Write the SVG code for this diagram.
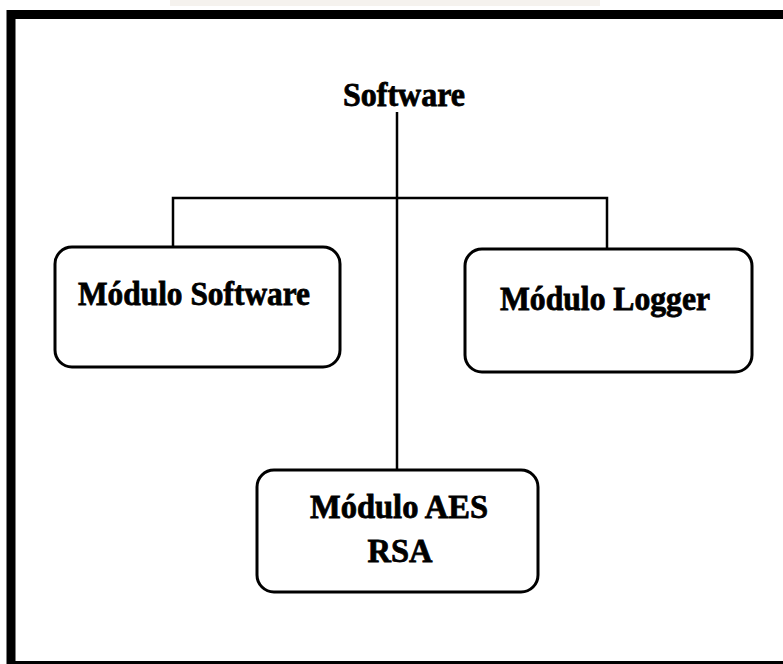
<svg xmlns="http://www.w3.org/2000/svg" width="783" height="664" viewBox="0 0 783 664">
<style>
.box{fill:#fff;stroke:#000;stroke-width:3}
.lbl{font-family:"Liberation Serif","Times New Roman",serif;font-weight:bold;font-size:34px;fill:#000;stroke:#000;stroke-width:0.8;text-anchor:middle}
.con{fill:none;stroke:#000;stroke-width:2.5}
</style>
<rect x="0" y="0" width="783" height="664" fill="#fff"/>
<rect x="170" y="0" width="430" height="6" fill="#eeeae3" opacity="0.6"/>
<path d="M11 664 V14.5 H790" fill="none" stroke="#000" stroke-width="9"/>
<line x1="7" y1="662.5" x2="783" y2="662.5" stroke="#000" stroke-width="3"/>
<g id="connectors">
<line class="con" x1="397" y1="112" x2="397" y2="470"/>
<polyline class="con" points="173,247 173,198 607,198 607,249"/>
</g>
<g id="root"><text class="lbl" x="404" y="106" textLength="122" lengthAdjust="spacingAndGlyphs">Software</text></g>
<g id="modulo-software">
<rect class="box" x="55" y="247" width="285" height="120" rx="17"/>
<text class="lbl" x="194" y="305" textLength="232" lengthAdjust="spacingAndGlyphs">Módulo Software</text>
</g>
<g id="modulo-logger">
<rect class="box" x="465" y="249" width="287" height="123" rx="17"/>
<text class="lbl" x="605" y="310" textLength="210" lengthAdjust="spacingAndGlyphs">Módulo Logger</text>
</g>
<g id="modulo-aes">
<rect class="box" x="257" y="470" width="281" height="122" rx="17"/>
<text class="lbl" x="399" y="518" textLength="178" lengthAdjust="spacingAndGlyphs">Módulo AES</text>
<text class="lbl" x="400" y="562" textLength="65" lengthAdjust="spacingAndGlyphs">RSA</text>
</g>
</svg>
